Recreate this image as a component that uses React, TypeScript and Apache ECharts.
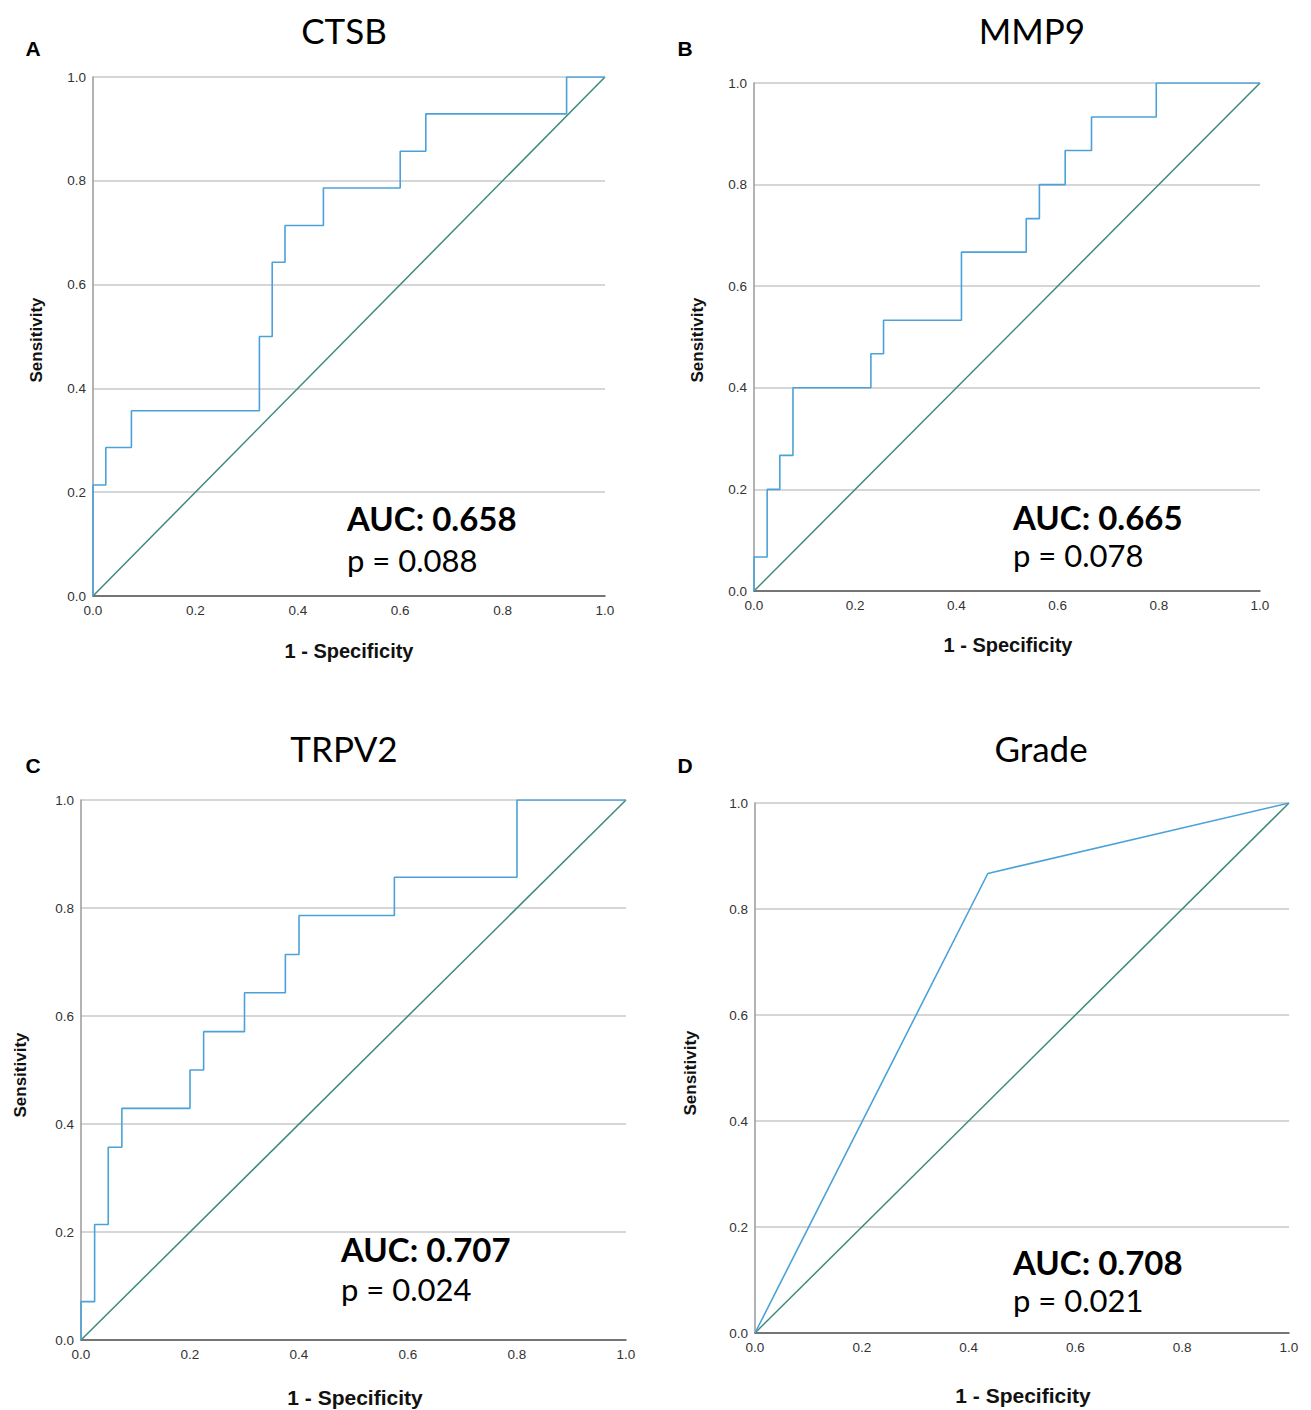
import React, { useEffect, useRef } from "react";
import * as echarts from "echarts";

// ROC curve corner points (1 - specificity, sensitivity)
const ctsbFpr = [0, 0, 0.025, 0.025, 0.075, 0.075, 0.325, 0.325, 0.35, 0.35, 0.375, 0.375, 0.45, 0.45, 0.6, 0.6, 0.65, 0.65, 0.925, 0.925, 1];
const ctsbTpr = [0, 0.214, 0.214, 0.286, 0.286, 0.357, 0.357, 0.5, 0.5, 0.643, 0.643, 0.714, 0.714, 0.786, 0.786, 0.857, 0.857, 0.929, 0.929, 1, 1];

const mmp9Fpr = [0, 0, 0.026, 0.026, 0.051, 0.051, 0.077, 0.077, 0.231, 0.231, 0.256, 0.256, 0.41, 0.41, 0.538, 0.538, 0.564, 0.564, 0.615, 0.615, 0.667, 0.667, 0.795, 0.795, 1];
const mmp9Tpr = [0, 0.067, 0.067, 0.2, 0.2, 0.267, 0.267, 0.4, 0.4, 0.467, 0.467, 0.533, 0.533, 0.667, 0.667, 0.733, 0.733, 0.8, 0.8, 0.867, 0.867, 0.933, 0.933, 1, 1];

const trpv2Fpr = [0, 0, 0.025, 0.025, 0.05, 0.05, 0.075, 0.075, 0.2, 0.2, 0.225, 0.225, 0.3, 0.3, 0.375, 0.375, 0.4, 0.4, 0.575, 0.575, 0.8, 0.8, 1];
const trpv2Tpr = [0, 0.071, 0.071, 0.214, 0.214, 0.357, 0.357, 0.429, 0.429, 0.5, 0.5, 0.571, 0.571, 0.643, 0.643, 0.714, 0.714, 0.786, 0.786, 0.857, 0.857, 1, 1];

const gradeFpr = [0, 0.436, 1];
const gradeTpr = [0, 0.867, 1];

const refFpr = [0, 1];
const refTpr = [0, 1];

const panelTitles = ["CTSB", "MMP9", "TRPV2", "Grade"];
const panelLetters = ["A", "B", "C", "D"];
const aucLabels = ["AUC: 0.658", "AUC: 0.665", "AUC: 0.707", "AUC: 0.708"];
const pLabels = ["p = 0.088", "p = 0.078", "p = 0.024", "p = 0.021"];

const curveX = [ctsbFpr, mmp9Fpr, trpv2Fpr, gradeFpr];
const curveY = [ctsbTpr, mmp9Tpr, trpv2Tpr, gradeTpr];

// layout (pixels)
const grids = [
  { left: 93, top: 77, width: 512, height: 519 },
  { left: 754, top: 83, width: 506, height: 508 },
  { left: 81, top: 800, width: 545, height: 540 },
  { left: 755, top: 803, width: 534, height: 530 },
];
const letterPos = [[33, 48], [685, 48], [33, 765], [685, 765]];
const titlePos = [[344, 30], [1032, 30], [344, 748], [1041, 748]];
const sensPos = [[36, 340], [697, 340], [20, 1075], [690, 1073]];
const specPos = [[349, 651], [1008, 645], [355, 1397], [1023, 1395]];
const aucPos = [[347, 518, 560], [1013, 517, 555], [341, 1249, 1289], [1013, 1262, 1300]];

const CURVE = "#4ba2d9";
const DIAG = "#3d8a7c";

export default function App() {
  const ref = useRef<HTMLDivElement>(null);
  useEffect(() => {
    document.body.style.margin = "0";
    const chart = echarts.init(ref.current!, null, { renderer: "svg" });
    const xAxis: any[] = [];
    const yAxis: any[] = [];
    const series: any[] = [];
    const graphic: any[] = [];
    grids.forEach((g, i) => {
      xAxis.push({
        type: "value",
        gridIndex: i,
        min: 0,
        max: 1,
        interval: 0.2,
        axisLine: { show: true, lineStyle: { color: "#555", width: 1.5 } },
        axisTick: { show: false },
        splitLine: { show: false },
        axisLabel: {
          color: "#333",
          fontFamily: "Liberation Sans, Arial",
          fontSize: 13.5,
          margin: 7,
          formatter: (v: number) => v.toFixed(1),
          showMaxLabel: true,
          showMinLabel: true,
        },
      });
      yAxis.push({
        type: "value",
        gridIndex: i,
        min: 0,
        max: 1,
        interval: 0.2,
        axisLine: { show: true, lineStyle: { color: "#9a9a9a", width: 1.5 } },
        axisTick: { show: false },
        splitLine: { show: true, lineStyle: { color: "#c9c9c9", width: 1.5 } },
        axisLabel: {
          color: "#333",
          fontFamily: "Liberation Sans, Arial",
          fontSize: 13.5,
          margin: 7,
          formatter: (v: number) => v.toFixed(1),
        },
      });
      series.push({
        type: "line",
        xAxisIndex: i,
        yAxisIndex: i,
        data: refFpr.map((x, k) => [x, refTpr[k]]),
        showSymbol: false,
        lineStyle: { color: DIAG, width: 1.5 },
        silent: true,
      });
      series.push({
        type: "line",
        xAxisIndex: i,
        yAxisIndex: i,
        data: curveX[i].map((x, k) => [x, curveY[i][k]]),
        showSymbol: false,
        lineStyle: { color: CURVE, width: 1.6 },
        silent: true,
      });
      graphic.push({
        type: "text",
        x: letterPos[i][0],
        y: letterPos[i][1],
        style: { text: panelLetters[i], font: "bold 21px 'Liberation Sans', Arial", fill: "#000", align: "center", verticalAlign: "middle" },
      });
      graphic.push({
        type: "text",
        x: titlePos[i][0],
        y: titlePos[i][1],
        style: { text: panelTitles[i], font: "35px Lato", fill: "#000", align: "center", verticalAlign: "middle" },
      });
      graphic.push({
        type: "text",
        x: sensPos[i][0],
        y: sensPos[i][1],
        rotation: Math.PI / 2,
        style: { text: "Sensitivity", font: "bold 17px 'Liberation Sans', Arial", fill: "#111", align: "center", verticalAlign: "middle" },
      });
      graphic.push({
        type: "text",
        x: specPos[i][0],
        y: specPos[i][1],
        style: { text: "1 - Specificity", font: i < 2 ? "bold 20px 'Liberation Sans', Arial" : "bold 21px 'Liberation Sans', Arial", fill: "#111", align: "center", verticalAlign: "middle" },
      });
      graphic.push({
        type: "text",
        x: aucPos[i][0],
        y: aucPos[i][1],
        style: { text: aucLabels[i], font: "bold 33px Lato", lineHeight: 33, fill: "#000", align: "left", verticalAlign: "middle" },
      });
      graphic.push({
        type: "text",
        x: aucPos[i][0],
        y: aucPos[i][2],
        style: { text: pLabels[i], font: "31px Lato", lineHeight: 31, fill: "#000", align: "left", verticalAlign: "middle" },
      });
    });
    chart.setOption({
      animation: false,
      backgroundColor: "#fff",
      grid: grids.map((g) => ({ ...g, containLabel: false })),
      xAxis,
      yAxis,
      series,
      graphic,
    });
    return () => chart.dispose();
  }, []);
  return <div ref={ref} style={{ width: 1311, height: 1410 }} />;
}
